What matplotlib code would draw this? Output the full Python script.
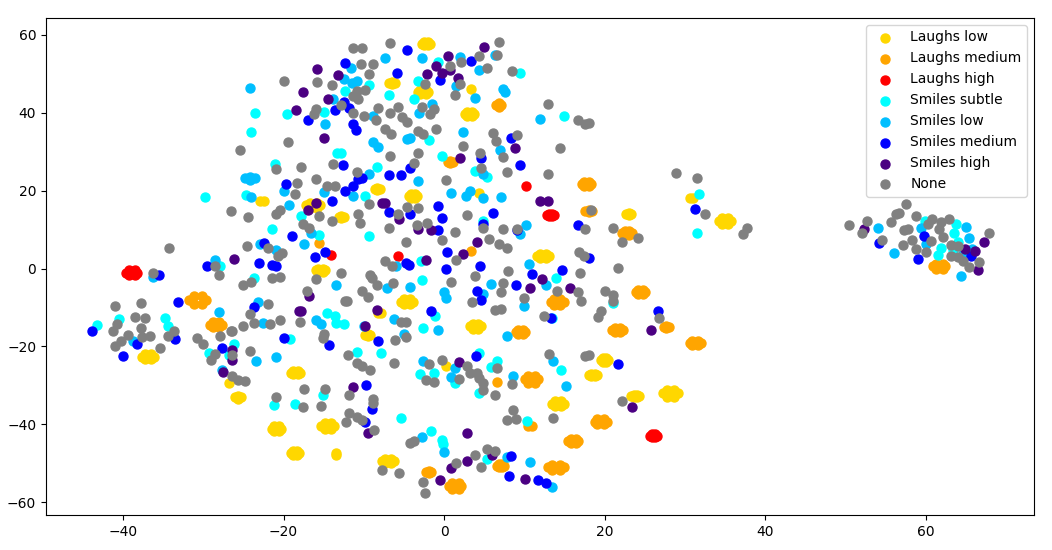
import matplotlib
matplotlib.use("Agg")
import matplotlib.pyplot as plt

laughs_low = [(-26.8,-29.4),(3.3,46.1),(4.4,19.4),(0.2,-25),
(-37.65,-22.6),(-37.3,-21.95),(-36.5,-21.95),(-36.15,-22.6),(-36.5,-23.25),(-37.3,-23.25),
(-26.1,-33.1),(-25.7,-32.8),(-25.3,-33.1),(-25.7,-33.4),
(-22.9,17.4),(-22.5,17.4),
(-17.2,16.2),(-16.75,16.8),(-15.85,16.8),(-15.4,16.2),(-15.85,15.6),(-16.75,15.6),
(-13.1,13.2),(-12.8,13.45),(-12.5,13.2),(-12.8,12.95),
(-8.6,20.5),(-8.3,20.8),(-8,20.5),(-8.3,20.2),
(-4.4,18.7),(-4.15,19.2),(-3.65,19.2),(-3.4,18.7),(-3.65,18.2),(-4.15,18.2),
(-15.95,-0.5),(-15.7,-0.1),(-15.1,-0.1),(-14.85,-0.5),(-15.1,-0.9),(-15.7,-0.9),
(-8.2,-11.5),(-7.8,-11.5),
(-5.35,-8.5),(-5,-7.9),(-4.2,-7.9),(-3.85,-8.5),(-4.2,-9.1),(-5,-9.1),
(-9.8,-17),(-9.5,-16.8),(-9.2,-17),(-9.5,-17.2),
(-19.05,-26.8),(-18.8,-26.4),(-18.2,-26.4),(-17.95,-26.8),(-18.2,-27.2),(-18.8,-27.2),
(-21.45,-41.1),(-21.2,-40.45),(-20.6,-40.45),(-20.35,-41.1),(-20.6,-41.75),(-21.2,-41.75),
(-19.1,-47.3),(-18.85,-46.8),(-18.35,-46.8),(-18.1,-47.3),(-18.35,-47.8),(-18.85,-47.8),
(-15.3,-40.4),(-14.9,-39.65),(-14.1,-39.65),(-13.7,-40.4),(-14.1,-41.15),(-14.9,-41.15),
(-13.5,-47.35),(-13.5,-47.85),
(-7.75,-49.5),(-7.4,-49),(-6.6,-49),(-6.25,-49.5),(-6.6,-50),(-7.4,-50),
(-2.7,57.7),(-2.45,58.1),(-1.95,58.1),(-1.7,57.7),(-1.95,57.3),(-2.45,57.3),
(-6.9,47.7),(-6.5,48),(-6.1,47.7),(-6.5,47.4),
(-3.25,45.3),(-2.95,45.8),(-2.25,45.8),(-1.95,45.3),(-2.25,44.8),(-2.95,44.8),
(2.65,39.7),(2.9,40.1),(3.5,40.1),(3.75,39.7),(3.5,39.3),(2.9,39.3),
(22.7,14.1),(23,14.35),(23.3,14.1),(23,13.85),
(11.55,3.2),(11.9,3.7),(12.7,3.7),(13.05,3.2),(12.7,2.7),(11.9,2.7),
(3.25,-14.8),(3.55,-14.2),(4.25,-14.2),(4.55,-14.8),(4.25,-15.4),(3.55,-15.4),
(19.6,-23.5),(19.8,-23),(20.2,-23),(20.4,-23.5),(20.2,-24),(19.8,-24),
(18,-27.4),(18.25,-27.15),(18.75,-27.15),(19,-27.4),(18.75,-27.65),(18.25,-27.65),
(13.4,-34.7),(13.8,-34.1),(14.6,-34.1),(15,-34.7),(14.6,-35.3),(13.8,-35.3),
(23.35,-32.8),(23.6,-32.55),(24,-32.55),(24.25,-32.8),(24,-33.05),(23.6,-33.05),
(27.3,-32),(27.75,-31.1),(28.65,-31.1),(29.1,-32),(28.65,-32.9),(27.75,-32.9),
(30.6,18.2),(31,18.2),
(34.25,12.2),(34.6,12.95),(35.4,12.95),(35.75,12.2),(35.4,11.45),(34.6,11.45)]

laughs_medium = [(-15.6,6.6),(3.4,4.5),(6.6,-29.1),
(-31.75,-8.1),(-31.2,-7.1),(-30.2,-7.1),(-29.65,-8.1),(-30.2,-9.1),(-31.2,-9.1),
(-29.15,-14.4),(-28.8,-13.8),(-28,-13.8),(-27.65,-14.4),(-28,-15),(-28.8,-15),
(6.5,42),(6.8,42.4),(7.1,42),(6.8,41.6),
(0.45,27.4),(0.75,27.65),(1.05,27.4),(0.75,27.15),
(17.15,21.7),(17.4,22.1),(18,22.1),(18.25,21.7),(18,21.3),(17.4,21.3),
(17.6,14.7),(18,15),(18.4,14.7),(18,14.4),
(22.2,9.1),(22.5,9.6),(23.1,9.6),(23.4,9.1),(23.1,8.6),(22.5,8.6),
(23.95,-6),(24.2,-5.5),(24.8,-5.5),(25.05,-6),(24.8,-6.5),(24.2,-6.5),
(13.3,-8.6),(13.7,-7.9),(14.5,-7.9),(14.9,-8.6),(14.5,-9.3),(13.7,-9.3),
(8.9,-16.3),(9.2,-15.7),(9.8,-15.7),(10.1,-16.3),(9.8,-16.9),(9.2,-16.9),
(20.95,-15.8),(21.25,-15.2),(21.95,-15.2),(22.25,-15.8),(21.95,-16.4),(21.25,-16.4),
(27.4,-14.9),(27.7,-14.65),(28,-14.9),(27.7,-15.15),
(30.6,-19.1),(30.95,-18.5),(31.65,-18.5),(32,-19.1),(31.65,-19.7),(30.95,-19.7),
(10.1,-28.4),(10.5,-27.5),(11.3,-27.5),(11.7,-28.4),(11.3,-29.3),(10.5,-29.3),
(10.5,-40.4),(10.9,-40.4),
(18.75,-39.3),(19.1,-38.7),(19.9,-38.7),(20.25,-39.3),(19.9,-39.9),(19.1,-39.9),
(15.5,-44.2),(15.8,-43.7),(16.4,-43.7),(16.7,-44.2),(16.4,-44.7),(15.8,-44.7),
(-2.2,-52.3),(-1.9,-52.1),(-1.6,-52.3),(-1.9,-52.5),
(6.55,-50.7),(6.8,-50.3),(7.2,-50.3),(7.45,-50.7),(7.2,-51.1),(6.8,-51.1),
(13,-51.1),(13.5,-50.35),(14.5,-50.35),(15,-51.1),(14.5,-51.85),(13.5,-51.85),
(0.65,-55.9),(1,-55.15),(1.8,-55.15),(2.15,-55.9),(1.8,-56.65),(1,-56.65),
(60.95,0.6),(61.3,1.2),(62.1,1.2),(62.45,0.6),(62.1,0),(61.3,0)]

laughs_high = [(-14.1,3.5),(-5.7,3.2),(10.2,21.3),
(-39.6,-1.1),(-39.25,-0.5),(-38.55,-0.5),(-38.2,-1.1),(-38.55,-1.7),(-39.25,-1.7),
(12.85,13.7),(13.1,13.95),(13.5,13.95),(13.75,13.7),(13.5,13.45),(13.1,13.45),
(25.65,-42.9),(25.9,-42.5),(26.3,-42.5),(26.55,-42.9),(26.3,-43.3),(25.9,-43.3)]

smiles_subtle = [(-29.8,18.4),(-27.9,0.7),(-40.5,-12.9),(-43.2,-14.6),(-34.8,-12.7),(-34.4,-14.7),(-26.2,-19.4),(-29.3,-21.6),(-26.8,-22.1),
(-23.5,40),(-24.1,35.1),(-19.6,39.7),(-15,40.2),(-12.4,45.7),(-9.4,47.2),(-6.9,44.6),(-3.2,48.2),(-3.7,43.6),(-0.8,53),(-1.9,33),
(-13.3,29.7),(-12.8,29.7),(-21.1,26.9),(-8.4,26.1),(-0.2,28.9),(-24.7,18.9),(-17.8,13.5),(-9.8,18.7),(-21.4,10.2),(-9.3,8.4),(-15.6,8.6),
(-23.7,-2.4),(-2.8,-2.9),(-2.9,1.9),(-14.6,-11.4),(-13.6,-12.2),(-13.5,-14),(-12.5,-14.2),(-19.2,-18.1),(-1.1,-12.2),(-2.6,-15.3),
(-21.2,-35),(-18.6,-34.8),(-15.1,-32.5),(-10.9,-21.4),(-7.8,-21.7),(-5.4,-38.4),(-1.6,-41.7),(-3,-27.1),(-1.3,-26.8),
(9.5,50.2),(14.9,39.2),(3.9,25),(5.3,23.5),(4.8,12.2),(13.9,-2.4),(21.1,-8.9),(13.4,-12.7),
(4.3,-21.7),(6.6,-23.7),(5.8,-25.3),(14.6,-26),(1.4,-29.4),(4.3,-32),(10.3,-39.2),(-0.2,-44),(-0.1,-45),(5.3,-48.9),
(31.8,19.2),(31.5,9.1),(59.9,12.2),(63.8,11.4),(63.5,9.1),(64,6.8),(61.9,5.3),(61.6,3.5),(63.4,4.8)]

smiles_low = [(-36.3,-2.2),(-28.5,2.1),(-28,-11.1),(-38.8,-18.5),(-27.7,-26),(-24.2,46.4),(-7.4,54.1),(-2.8,54.1),(-11.6,51.5),(-12.5,48.7),(-11.5,47.7),(-10.8,48.2),
(-13.8,43.6),(-14.9,37.1),(-8.9,39.2),(-3.1,40),(-1.5,42.3),(-8.9,32.5),(-8.2,31.2),(-4.6,33.3),(-4.3,33.5),(-9.3,24.3),(-3.3,22.5),
(-24.8,23.2),(-24.2,23.6),(-24.2,22.8),(-23.6,23.3),(-24.1,18.4),(-20,20),(-19.3,16.3),(-15,19.7),(-11.4,18.7),(-17.4,6.3),(-16.6,9.1),(-22.9,6.3),(-21,4.8),
(-23.2,-8.6),(-22.6,-14),(-15.9,-13.2),(-15.3,-14.2),(-13.5,-4.2),(-7.1,-5),(-4.2,-4.7),(-6.2,-13),(-0.8,-15.8),(-5,-16.8),(-10,-14.8),(-6,0.7),
(-23.4,-23.7),(-21,-22.7),(-2.6,-23.7),(-2.8,-43.3),
(2,54.4),(6.4,54.9),(4.4,51),(1.5,46.9),(7.3,46.1),(7.6,45.4),(3.9,43.8),(11.9,38.4),(2.4,35.1),(7,30.4),(4.9,24.3),
(0.8,19.4),(2.7,18.7),(3.2,20),(4.9,18.1),(7.1,18.4),(10.2,11.2),(9.5,8.9),(10.6,1.2),(5.9,-4),(12.7,-4.2),(4.9,-6.5),(0,-6),(0.2,-7.6),(10,-9.5),(7.9,-17.3),
(1.3,-25.5),(0.9,-27.8),(8.6,-27.6),(13.6,-23.7),(15.2,-30.2),(0,-47.1),(7.9,-48.4),(10.7,-49.7),(13.4,-56.1),
(54.1,10.4),(59.4,10.4),(65,10.7),(65.4,7.8),(56.1,4),(60.1,6.3),(64.4,-1.9),(64.7,3.7),(65.8,5)]

smiles_medium = [(-35.5,-1.6),(-29.6,0.7),(-33.1,-8.6),(-43.9,-16),(-38.2,-19.4),(-33.5,-18.1),(-27.7,-20.5),(-40,-22.4),
(-12.3,52.8),(-4.6,56.2),(-5.9,50.2),(-0.5,48.4),(-12.5,42.8),(-11.9,41.2),(-13.6,40.7),(-17,38.2),(-11.3,37.1),(-11,35.6),(-12.6,26.6),(-4.3,25.8),(-5.4,24),(-6.9,24),
(-10.2,23.2),(-10.7,23),(-19.7,21.7),(-11.4,21.2),(-12.3,19.9),(-14,17.4),(-6.9,14.5),(-4.2,14),(-0.8,16.1),(-19,8.4),(-22.5,6.6),(-16.1,3),(-14.8,4.3),(-23.1,1.4),
(-21.5,0.9),(-21,0.7),(-4.7,1.4),(-4.4,0.9),(-0.7,9.9),(-23.7,-9.9),(-1.6,-10.9),(-20,-17.9),(-8.2,-18.6),(-14.4,-19.6),(-9.7,-29.9),(-9,-36),(-9.9,-39.4),
(3.3,53.3),(8.3,33.5),(4.6,28.4),(9.4,26.6),(6.1,14.3),(-0.2,13),(4.9,11.5),(9.1,9.9),(0.4,4.3),(0.3,-0.1),(4.5,0.7),(11,-1.4),(14.7,-0.4),(9,-4.2),(4.1,-5.8),(4.6,-8.1),
(16.7,11.2),(18.1,2.7),(26.7,-10.9),(13.3,-12.7),(4,-22.4),(21.7,-24.5),(8.3,-48.2),(8.1,-53.3),(11.7,-54.3),(12.7,-55.1),
(31.2,15.3),(54.2,6.6),(59.8,8.4),(59.1,2.4),(65.7,3.2)]

smiles_high = [(-26.2,2.5),(-27.5,-26.6),(-26.4,-20.9),(-26.4,-23.6),(-15.8,51.3),(-13.2,49.7),(-17.6,45.4),(-14.5,43.6),(-18.5,40.7),(-15,33.5),(-1,52),(-2.1,50),
(-17,15),(-15.9,16.9),(-7.7,16.9),(-7.3,16.9),(-5.6,12.7),(-3.2,10.2),(-1.6,9.9),(-2.3,2.2),(-16.8,-7),(-18.1,-10.9),(-17.8,-10.9),(-8.3,-10.7),(-9.9,-14.8),
(-11.3,-30.4),(-9.5,-42.2),(5,56.9),(0.5,54.6),(0.7,51),(-0.2,50.2),(1.7,49),(8.8,31),(2,28.4),(12,17.4),(12.9,17.4),(4.1,6.8),(2.4,3.7),(12.2,-2.7),(10.7,-5),(15.7,-5),(25.8,-15.8),
(1.8,-24),(2.9,-42.2),(23.4,-35.6),(6,-47.9),(2.8,-49.4),(0.9,-51.2),(-0.5,-54.3),(10.1,-54.1),(52.3,10.2),(64.9,5),(66.2,4.5),(67.3,6.8),(66.5,-0.4)]

none_points = [(-34.3,5.3),(-36.3,-1.1),(-26.6,14.8),(-28.6,0.7),(-28,-1.7),(-37.8,-8.8),(-41,-9.6),(-38.5,-12.4),(-37.3,-12.7),(-40.8,-14.2),(-37.8,-15.2),(-41.3,-16),(-33.6,-16),
(-39.4,-17),(-37.7,-17.6),(-36.7,-17.3),(-34.4,-17.3),(-40.2,-18.6),(-41,-20),(-35.4,-20.5),(-30.8,-17.8),(-30.1,-19.3),(-27.9,-17.3),(-26.5,-16),(-28.6,-21.9),(-29.1,-23.6),(-26.4,-27.5),(-26.4,-22.1),
(-11.3,56.7),(-10.2,56.7),(-6.8,58),(-10.3,52.6),(-8.8,52.6),(-9.4,50),(-19.9,48.2),(-15.8,47.9),(-14,47.2),(-9.9,45.9),(-10.9,45.7),(-11.3,44.2),(-10.7,43.6),(-12.8,42.1),(-15.9,40.9),(-16.2,39.6),
(-11.4,40),(-10,39.2),(-8.2,41.2),(-6.7,40),(-5.7,41.5),(-5.2,38.8),(-4.6,37.6),(-8.5,38.2),(-7.3,35.8),(-6.6,34.6),(-3.3,35.3),(-2.6,34.6),(-1,35.8),(-2.7,41.5),(-1.2,41),(-1.8,39.7),(-2.4,47.4),
(-19.5,32.5),(-25.4,30.5),(-3.2,29.7),(-6.7,28.9),(-3.8,27.1),(-13.8,26.9),(-17.8,26.1),(-21,25.6),(-10.9,24.8),(-16,23),(-18.3,22),(-14.6,21.2),(-13.6,21.2),
(-18.6,19.2),(-24.4,13.3),(-20.5,15),(-20.9,14),(-9.4,16.6),(-4.6,15.8),(-3.3,15.6),(-5.7,14),(-10.7,13.9),(-10.5,11.7),(-14,12.2),(-15.6,13.5),(-17.6,11.5),(-16.8,10.4),(-6.9,10.4),(-3.4,11.3),(-2.1,11.7),
(-24.5,5.8),(-22,5.3),(-20.2,4),(-20.7,3.1),(-4.8,6.8),(-7.3,1.9),(-6.5,0.7),(-12.9,-1.1),(-21.5,-2.4),(-20.4,-2.2),(-25.1,-4.2),(-24.1,-3.5),(-15.9,-2.7),(-9.2,-1.7),(-9,-2.4),(-8.3,-4.2),(-6.4,-3.7),
(-17.1,-5.8),(-10.2,-5.8),(-9.5,-7.3),(-12.4,-8.3),(-12.1,-8.3),(-22,-9.1),(-24.2,-11.7),(-25.1,-14.8),(-23.7,-14),(-21.7,-14.2),(-20.4,-13.2),(-17.9,-13.7),(-15,-16.8),(-15.1,-17.9),(-26.4,-16),
(-5.4,-13.7),(-4.7,-13.7),(-4.7,-17.6),(-6.1,-18.4),(-24.2,-21.2),(-25.7,-28.5),(-24.8,-28.9),(-12,-22.2),(-10.8,-24.2),(-10.2,-25),(-9.2,-26),(-6.3,-24.2),(-1.9,-24.5),(-2.3,-28.6),(-1.2,-29.1),
(-17.5,-30.9),(-21,-33),(-17.6,-35.6),(-14.9,-30.9),(-15.3,-35.3),(-11.9,-32.5),(-8.9,-33.5),(-8.8,-34.5),(-11.8,-37.1),(-10.8,-38.1),(-10.2,-38.9),(-12.2,-39.4),(-8.7,-41.5),(-4.2,-44.8),(-3.8,-44.2),
(-7.7,-51.8),(-5.6,-52.5),(-2.6,-54.8),(-2.4,-57.7),
(6.9,58.2),(6.6,54.9),(4.4,54.6),(2.1,53),(0.75,52),(5.3,51.5),(8.5,50.8),(2,47.4),(1.3,44.6),(12.9,42.3),(16.7,38.2),(17.5,37.1),(18,37.4),(6.1,34.8),(6.5,32.8),(9.1,34.3),(2.4,31.5),(14.4,31),(4.5,29.7),(7.3,28.6),(4.6,25.8),(7.8,24.8),(12.9,24.3),(28.9,24.5),(31.5,23.2),(0.3,22.7),
(2.8,13.8),(4.9,10.4),(7.4,10.2),(9.1,10.2),(1.4,9.4),(-0.2,7.3),(5.6,7.6),(6.8,6.3),(7.8,5.3),(1.5,2.2),(18.3,15),(17.5,10.2),(21.1,10.4),(22.2,6.8),(24.2,7.9),(16.8,4.3),(17.4,3.2),(8,-0.6),(3.9,-1.9),(0.9,-3.5),(7.3,-3.7),(7.1,-6),(3.5,-8.6),(14.1,-5.8),(16.9,-1.1),(21.7,0.1),(16.7,-6),(17.1,-8.3),(20.1,-5.8),(21,-6.8),(21,-8.3),(19.5,-11),(19.2,-12.5),(10,-7.6),(6.3,-10.7),(7.1,-10.4),(12.4,-12.2),(26.8,-12.7),
(-0.2,-23.5),(2.8,-25),(3.2,-26.8),(4.1,-26.8),(1.9,-28.4),(4.4,-28.1),(4.8,-29.4),(4.8,-31.2),(6.3,-32.5),(6.6,-25.5),(8.4,-29.6),(13.1,-21.9),(17.6,-22.4),(18,-22.2),(8.6,-36.3),(7.9,-38.9),(8.9,-38.6),(13.6,-38.4),(22.2,-34),(5.4,-46.4),(6.4,-46.9),(3.8,-47.9),(1.5,-50),(4.6,-51),
(32.5,14),(37.8,10.4),(37.2,8.9),(50.5,11.2),(52.7,12.2),(52.1,9.1),(54.6,7.3),(55.7,12),(56.3,14),(56.7,14.3),(57.6,16.6),(58.8,13.5),(57.2,6),(57.3,9.9),(57.8,10.2),(58.3,7.3),(58.8,5),(60.1,4.2),(60.7,7.1),(60.3,11.4),(60.8,12.7),(61.9,12),(61.7,10.2),(62.2,8.1),(62.9,12.7),(63.2,6),(64,5.8),(63.1,3.2),(64,3),(64.7,1.9),(65.4,0.4),(66.7,1.7),(67.9,9.1)]

series = [("Laughs low", laughs_low, "gold"),
          ("Laughs medium", laughs_medium, "orange"),
          ("Laughs high", laughs_high, "red"),
          ("Smiles subtle", smiles_subtle, "cyan"),
          ("Smiles low", smiles_low, "deepskyblue"),
          ("Smiles medium", smiles_medium, "blue"),
          ("Smiles high", smiles_high, "indigo"),
          ("None", none_points, "gray")]

fig = plt.figure(figsize=(10.52, 5.5), dpi=100)
ax = fig.add_axes([46/1052, (550-515)/550, (1034-46)/1052, (515-18)/550])
for label, pts, color in series:
    ax.scatter([p[0] for p in pts], [p[1] for p in pts], c=color, s=42, label=label)
ax.set_xlim(-49.6, 73.5)
ax.set_ylim(-63.3, 64.35)
ax.legend(loc="upper right")
fig.savefig("out.png", dpi=100)
